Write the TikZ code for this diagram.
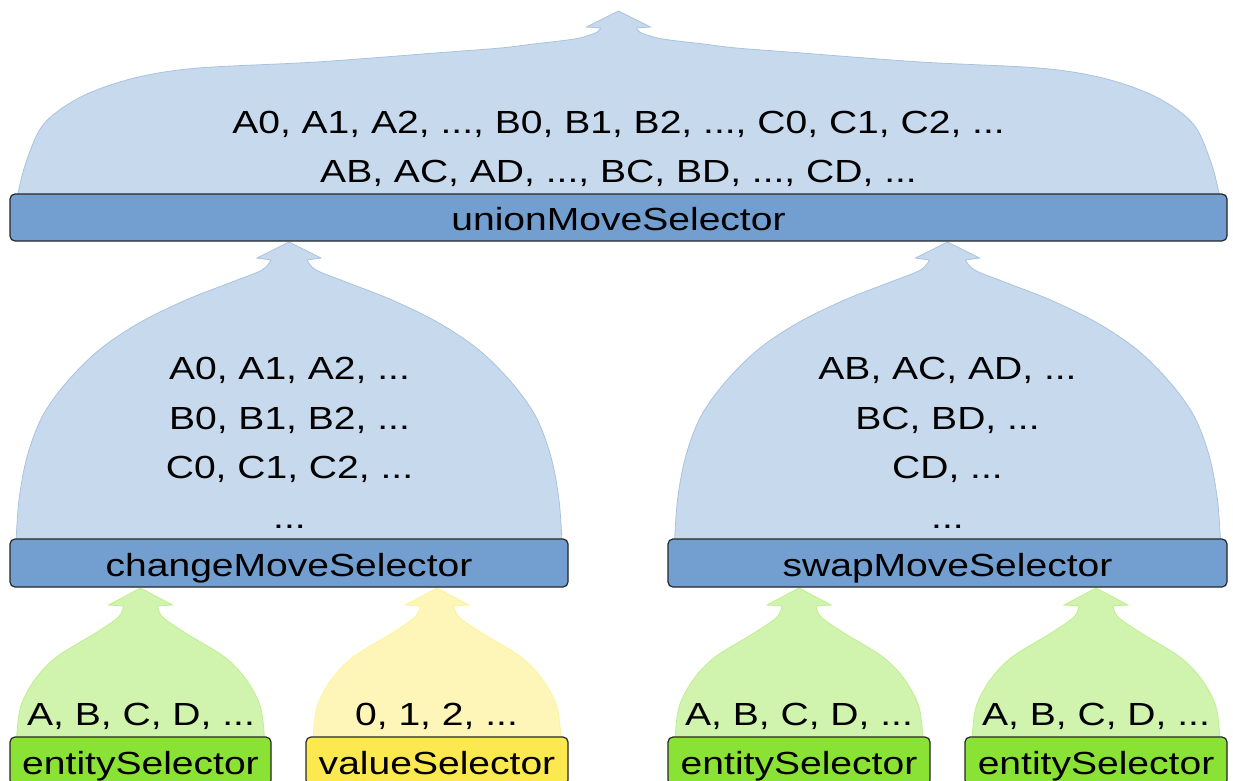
\documentclass[tikz,border=0pt]{standalone}
\usepackage{fontspec}
\setmainfont{Liberation Sans}[FakeStretch=1.22]
\definecolor{skyblue}{RGB}{114,159,207}
\definecolor{chameleon}{RGB}{138,226,52}
\definecolor{butter}{RGB}{252,233,79}
\tikzset{
  lbl/.style={font=\fontsize{32}{49.5}\selectfont, inner sep=0pt, align=center},
  box/.style={draw=black!85, line width=1.2pt, rounded corners=5pt, inner sep=0pt,
    text height=26pt, text depth=0pt, minimum height=48pt, font=\fontsize{32}{40}\selectfont},
  bluebox/.style={box, fill=skyblue},
  greenbox/.style={box, fill=chameleon},
  yellowbox/.style={box, fill=butter},
  bluedome/.style={fill=skyblue!40!white, draw=skyblue!62!white, line width=0.8pt},
  greendome/.style={fill=chameleon!40!white, draw=chameleon!55!white, line width=0.8pt},
  yellowdome/.style={fill=butter!40!white, draw=butter!55!white, line width=0.8pt},
  topdome/.pic={
    \path[pic actions] plot[smooth,tension=0.55] coordinates {(-601,185) (-594,156) (-579,119) (-559,99) (-527,81) (-480,66) (-420,57) (-302,51) (-183,42) (-118,37) (-85,33) (-51,29) (-35,26) (-21,21) (-18,17)}
      -- (-32,16) -- (0,0) -- (32,16) --
      plot[smooth,tension=0.55] coordinates {(18,17) (21,21) (35,26) (51,29) (85,33) (118,37) (183,42) (302,51) (420,57) (480,66) (527,81) (559,99) (579,119) (594,156) (601,185)} -- cycle;
  },
  middome/.pic={
    \path[pic actions] plot[smooth,tension=0.55] coordinates {(-273,300) (-270,258) (-262,215) (-247,175) (-223,141) (-190,108) (-150,81) (-103,58) (-57,40) (-27,28) (-18,18)}
      -- (-32,16) -- (0,0) -- (32,16) --
      plot[smooth,tension=0.55] coordinates {(18,18) (27,28) (57,40) (103,58) (150,81) (190,108) (223,141) (247,175) (262,215) (270,258) (273,300)} -- cycle;
  },
  smalldome/.pic={
    \path[pic actions] plot[smooth,tension=0.55] coordinates {(-124,151) (-120,119) (-106,92) (-84,69) (-45,45) (-22,29) (-17,18)}
      -- (-32,17) -- (0,0) -- (32,17) --
      plot[smooth,tension=0.55] coordinates {(17,18) (22,29) (45,45) (84,69) (106,92) (120,119) (124,151)} -- cycle;
  }
}
\begin{document}
\begin{tikzpicture}[x=1pt,y=-1pt]
\useasboundingbox (0,0) rectangle (1233,780);
% named positions of the selectors
\coordinate (unionc) at (618.5,217.5);
\coordinate (changec) at (289,563);
\coordinate (swapc) at (947.5,563);
\coordinate (out) at (618.5,11);
% domes (drawn first, behind the boxes)
\pic[bluedome] at (out) {topdome};
\pic[bluedome] at (289,242) {middome};
\pic[bluedome] at (947.5,242) {middome};
\pic[greendome] at (140.5,588) {smalldome};
\pic[yellowdome] at (437,588) {smalldome};
\pic[greendome] at (799,588) {smalldome};
\pic[greendome] at (1096,588) {smalldome};
% selector boxes
\node[bluebox, minimum width=1217pt, minimum height=47pt] (union) at (unionc) {unionMoveSelector};
\node[bluebox, minimum width=558pt] (change) at (changec) {changeMoveSelector};
\node[bluebox, minimum width=559pt] (swap) at (swapc) {swapMoveSelector};
\node[greenbox, minimum width=261pt] (ent1) at (140.5,761) {entitySelector};
\node[yellowbox, minimum width=262pt] (val) at (437,761) {valueSelector};
\node[greenbox, minimum width=262pt] (ent2) at (799,761) {entitySelector};
\node[greenbox, minimum width=262pt] (ent3) at (1096,761) {entitySelector};
% move lists (base anchor = baseline of the last line)
\node[lbl, anchor=base] (toplist) at (618.5,182.5) {A0, A1, A2, ..., B0, B1, B2, ..., C0, C1, C2, ...\\AB, AC, AD, ..., BC, BD, ..., CD, ...};
\node[lbl, anchor=base] (changelist) at (289.5,528) {A0, A1, A2, ...\\B0, B1, B2, ...\\C0, C1, C2, ...\\...};
\node[lbl, anchor=base] (swaplist) at (947.5,528) {AB, AC, AD, ...\\BC, BD, ...\\CD, ...\\...};
\node[lbl, anchor=base] (ent1list) at (141,725) {A, B, C, D, ...};
\node[lbl, anchor=base] (vallist) at (436.5,725) {0, 1, 2, ...};
\node[lbl, anchor=base] (ent2list) at (799,725) {A, B, C, D, ...};
\node[lbl, anchor=base] (ent3list) at (1096,725) {A, B, C, D, ...};
\end{tikzpicture}
\end{document}
